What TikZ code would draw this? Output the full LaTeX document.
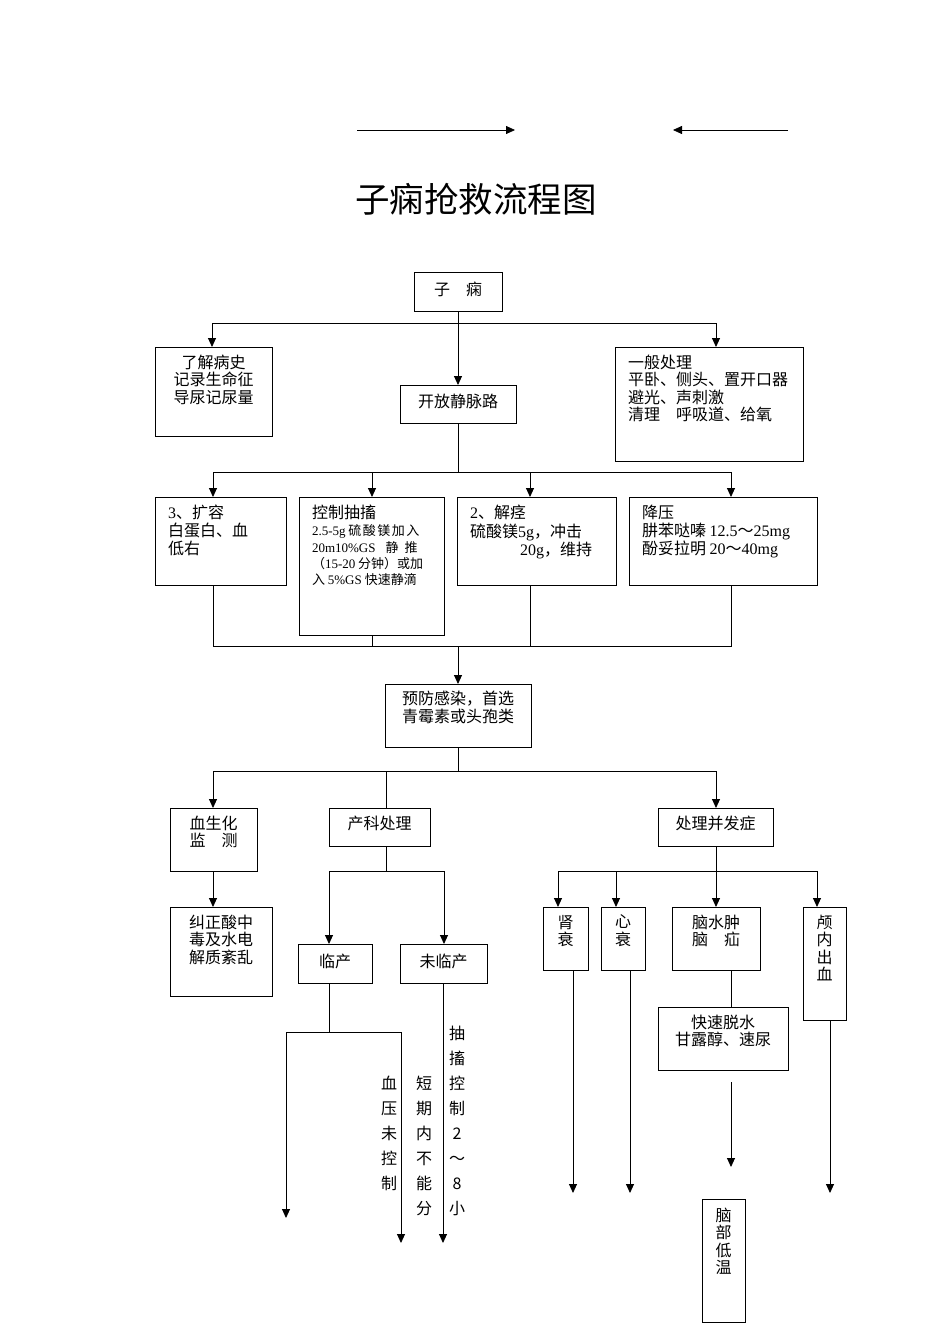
\documentclass[tikz,border=0pt]{standalone}
\usepackage{fontspec}
\setmainfont{Liberation Serif}
\newfontfamily\cjk{Noto Sans CJK SC}
\usetikzlibrary{arrows.meta}
\newcommand\latn[1]{{\rmfamily #1}}
\newcommand\bxt[4]{\parbox[t][#2pt][t]{#1pt}{\vspace*{#3pt}#4}}
\tikzset{
  bx/.style={draw, line width=1pt, inner sep=0pt, outer sep=0pt, anchor=north west,
    font=\cjk\fontsize{16}{17.5}\selectfont},
  ln/.style={line width=0.9pt},
  ar/.style={line width=0.9pt, -{Triangle[length=9pt,width=8pt]}},
  vt/.style={inner sep=0pt, anchor=north, align=center,
    font=\cjk\fontsize{16}{25}\selectfont}
}
\begin{document}
\begin{tikzpicture}[x=1pt,y=-1pt]
\useasboundingbox[fill=white] (0,0) rectangle (950,1344);

% top arrows and title
\coordinate (t1a) at (357,130); \coordinate (t1b) at (515,130);
\coordinate (t2a) at (788,130); \coordinate (t2b) at (673,130);
\draw[ar, line width=0.8pt] (t1a) -- (t1b);
\draw[ar, line width=0.8pt] (t2a) -- (t2b);
\node[font=\cjk\fontsize{34.5}{40}\selectfont, inner sep=0pt] (title) at (476,199) {子痫抢救流程图};

% boxes
\node[bx] (zx) at (414,272) {\bxt{88}{39}{10}{\centering 子\hspace{16pt}痫}};
\node[bx] (lj) at (155,347) {\bxt{117}{89}{8}{\centering 了解病史\\记录生命征\\导尿记尿量}};
\node[bx] (kf) at (400,385) {\bxt{116}{38}{9}{\centering 开放静脉路}};
\node[bx] (yb) at (615,347) {\bxt{188}{114}{8}{\raggedright\leftskip=13pt 一般处理\\平卧、侧头、置开口器\\避光、声刺激\\清理\hspace{16pt}呼吸道、给氧}};

\node[bx] (ky) at (155,497) {\bxt{131}{88}{8}{\raggedright\leftskip=13pt\baselineskip=18pt \latn{3}、扩容\\白蛋白、血\\低右}};
\node[bx] (kz) at (299,497) {\bxt{145}{138}{8}{\raggedright\leftskip=13pt 控制抽搐\par
  \vspace{1pt}{\fontsize{13}{16.3}\selectfont
  \latn{2.5-5g} 硫\hspace{1.5pt}酸\hspace{1.5pt}镁\hspace{1.5pt}加\hspace{1.5pt}入\\
  \latn{20m10\%GS}\hspace{10pt}静\hspace{6pt}推\\
  （\latn{15-20} 分钟）或加\\
  入 \latn{5\%GS} 快速静滴\par}}};
\node[bx] (jj) at (457,497) {\bxt{159}{88}{8}{\raggedright\leftskip=13pt\baselineskip=18.5pt \latn{2}、解痉\\硫酸镁\latn{5g}，冲击\\\hspace*{50pt}\latn{20g}，维持}};
\node[bx] (jy) at (629,497) {\bxt{188}{88}{8}{\raggedright\leftskip=13pt\baselineskip=18pt 降压\\肼苯哒嗪 \latn{12.5}～\latn{25mg}\\酚妥拉明 \latn{20}～\latn{40mg}}};

\node[bx] (yf) at (385,684) {\bxt{146}{63}{7}{\centering 预防感染，首选\\青霉素或头孢类}};

\node[bx] (xs) at (170,808) {\bxt{87}{63}{8}{\centering 血生化\\监\hspace{16pt}测}};
\node[bx] (jz) at (170,907) {\bxt{102}{89}{8}{\centering 纠正酸中\\毒及水电\\解质紊乱}};
\node[bx] (ck) at (329,808) {\bxt{101}{38}{8}{\centering 产科处理}};
\node[bx] (bf) at (658,808) {\bxt{115}{38}{8}{\centering 处理并发症}};
\node[bx] (lc) at (298,944) {\bxt{74}{39}{10}{\centering 临产}};
\node[bx] (wl) at (400,944) {\bxt{87}{39}{10}{\centering 未临产}};

\node[bx] (sh) at (543,907) {\bxt{45}{63}{8}{\centering 肾\\衰}};
\node[bx] (xi) at (601,907) {\bxt{44}{63}{8}{\centering 心\\衰}};
\node[bx] (ns) at (672,907) {\bxt{88}{63}{8}{\centering 脑水肿\\脑\hspace{16pt}疝}};
\node[bx] (lx) at (803,907) {\bxt{43}{113}{8}{\centering 颅\\内\\出\\血}};
\node[bx] (ks) at (658,1007) {\bxt{130}{63}{8}{\centering 快速脱水\\甘露醇、速尿}};
\node[bx] (nd) at (702,1199) {\bxt{43}{123}{9}{\centering 脑\\部\\低\\温}};

% vertical labels
\node[vt] (v1) at (389,1076) {血\\压\\未\\控\\制};
\node[vt] (v2) at (424,1076) {短\\期\\内\\不\\能\\分};
\node[vt] (v3) at (457,1026) {抽\\搐\\控\\制\\2\\～\\8\\小};

% row 1
\coordinate (b1) at (458,323);
\draw[ar] (zx.south) -- (kf.north);
\draw[ar] (b1) -| ([xshift=57pt]lj.north west);
\draw[ar] (b1) -| ([xshift=101pt]yb.north west);

% row 2
\coordinate (b2) at (458,472);
\draw[ln] (kf.south) -- (b2);
\draw[ar] (b2) -| ([xshift=58pt]ky.north west);
\draw[ar] (b2) -| ([xshift=73pt]kz.north west);
\draw[ar] (b2) -| ([xshift=73pt]jj.north west);
\draw[ar] (b2) -| ([xshift=102pt]jy.north west);

% merge
\coordinate (b3) at (458,646);
\draw[ln] ([xshift=58pt]ky.south west) |- (b3);
\draw[ln] ([xshift=73pt]kz.south west) |- (b3);
\draw[ln] ([xshift=73pt]jj.south west) |- (b3);
\draw[ln] ([xshift=102pt]jy.south west) |- (b3);
\draw[ar] (b3) -- (yf.north);

% row 3
\coordinate (b4) at (458,771);
\draw[ln] (yf.south) -- (b4);
\draw[ar] (b4) -| ([xshift=43pt]xs.north west);
\draw[ln] (b4) -| ([xshift=57pt]ck.north west);
\draw[ar] (b4) -| ([xshift=58pt]bf.north west);
\draw[ar] ([xshift=43pt]xs.south west) -- ([xshift=43pt]jz.north west);

% obstetric branch
\coordinate (b5) at (386,871);
\draw[ln] ([xshift=57pt]ck.south west) -- (b5);
\draw[ar] (b5) -| ([xshift=31pt]lc.north west);
\draw[ar] (b5) -| ([xshift=44pt]wl.north west);
\coordinate (b6) at (329,1032);
\coordinate (e1) at (286,1218);
\coordinate (e2) at (401,1243);
\coordinate (e3) at (443,1243);
\draw[ln] ([xshift=31pt]lc.south west) -- (b6);
\draw[ar] (b6) -| (e1);
\draw[ar] (b6) -| (e2);
\draw[ar] ([xshift=43pt]wl.south west) -- (e3);

% complications branch
\coordinate (b7) at (716,871);
\draw[ln] ([xshift=58pt]bf.south west) -- (b7);
\draw[ar] (b7) -| ([xshift=15pt]sh.north west);
\draw[ar] (b7) -| ([xshift=15pt]xi.north west);
\draw[ar] (b7) -- ([xshift=44pt]ns.north west);
\draw[ar] (b7) -| ([xshift=14pt]lx.north west);
\coordinate (e4) at (573,1193);
\coordinate (e5) at (630,1193);
\coordinate (e6) at (830,1193);
\draw[ar] ([xshift=30pt]sh.south west) -- (e4);
\draw[ar] ([xshift=29pt]xi.south west) -- (e5);
\draw[ar] ([xshift=27pt]lx.south west) -- (e6);
\draw[ln] ([xshift=59pt]ns.south west) -- ([xshift=73pt]ks.north west);
\coordinate (f1) at (731,1082);
\coordinate (f2) at (731,1167);
\draw[ar] (f1) -- (f2);
\end{tikzpicture}
\end{document}
